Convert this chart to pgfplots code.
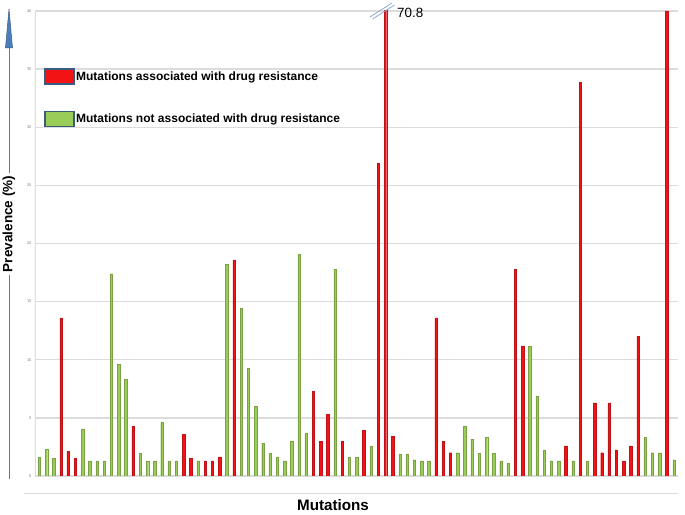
\documentclass[border=0pt]{standalone}
\usepackage{fontspec}
\setmainfont{Liberation Sans}
\usepackage{pgfplots}
\pgfplotsset{compat=1.18}
\usetikzlibrary{calc}
\definecolor{barred}{HTML}{F21414}
\definecolor{barredE}{HTML}{C01018}
\definecolor{bargreen}{HTML}{9ACD58}
\definecolor{bargreenE}{HTML}{7AA244}
\definecolor{legborder}{HTML}{3A5A80}
\definecolor{arrowblue}{HTML}{4A7EBB}
\definecolor{gridgray}{HTML}{DCDCDC}
\definecolor{breakblue}{HTML}{8FA8CC}
\begin{document}
\begin{tikzpicture}
\begin{axis}[
  scale only axis, width=643pt, height=465pt,
  xmin=0.4, xmax=89.55, ymin=0, ymax=40,
  ybar, bar width=2.4pt, bar shift=0pt,
  ytick={0,5,...,40}, xtick=\empty,
  ymajorgrids, grid style={gridgray, line width=1.3pt},
  axis line style={draw=none},
  tick style={draw=none},
  yticklabel style={font=\fontsize{4}{4}\selectfont, text=gray},
  /pgf/number format/assume math mode=true,
  legend style={at={(0.014,0.877)}, anchor=north west, draw=none, fill=none,
    inner sep=0pt, row sep=26.5pt, font=\bfseries\fontsize{12}{14}\selectfont,
    nodes={inner sep=1.5pt}},
  legend cell align=left,
]
\draw[gridgray, line width=1.3pt] (rel axis cs:0,0) -- (rel axis cs:0,1);
\addplot[fill=barred, draw=barredE, line width=0.4pt,
  legend image code/.code={\filldraw[fill=barred, draw=legborder, line width=1.3pt]
     (0pt,-7.5pt) rectangle (29pt,7.5pt);}] coordinates {
(4,13.6) (5,2.1) (6,1.5) (14,4.3) (21,3.6) (22,1.5) (24,1.3) (25,1.3) (26,1.65)
(28,18.6) (39,7.3) (40,3.0) (41,5.3) (43,3.0) (46,3.9) (48,26.9) (49,70.8) (50,3.4)
(56,13.6) (57,3.0) (58,2.0) (67,17.8) (68,11.2) (74,2.6) (76,33.85) (78,6.3)
(79,2.0) (80,6.3) (81,2.25) (82,1.3) (83,2.6) (84,12.0) (88,40)
};
\addlegendentry{Mutations associated with drug resistance}
\addplot[fill=bargreen, draw=bargreenE, line width=0.4pt,
  legend image code/.code={\filldraw[fill=bargreen, draw=legborder, line width=1.3pt]
     (0pt,-7.5pt) rectangle (29pt,7.5pt);}] coordinates {
(1,1.6) (2,2.3) (3,1.5) (7,4.0) (8,1.3) (9,1.3) (10,1.3) (11,17.4) (12,9.6) (13,8.3)
(15,1.95) (16,1.3) (17,1.3) (18,4.6) (19,1.3) (20,1.3) (23,1.3) (27,18.25) (29,14.4)
(30,9.3) (31,6.0) (32,2.8) (33,1.95) (34,1.65) (35,1.3) (36,3.0) (37,19.05) (38,3.65)
(42,17.8) (44,1.6) (45,1.6) (47,2.6) (51,1.9) (52,1.9) (53,1.4) (54,1.3) (55,1.3)
(59,2.0) (60,4.25) (61,3.15) (62,1.95) (63,3.35) (64,1.95) (65,1.3) (66,1.1)
(69,11.2) (70,6.9) (71,2.25) (72,1.3) (73,1.3) (75,1.3) (77,1.3) (85,3.3) (86,2.0)
(87,2.0) (89,1.4)
};
\addlegendentry{Mutations not associated with drug resistance}
\coordinate (SW) at (rel axis cs:0,0);
\end{axis}
% bounding box
\path[use as bounding box] ($(SW)+(-35pt,-38pt)$) rectangle ($(SW)+(650pt,476pt)$);
% bottom faint line
\draw[gridgray, line width=1pt] ($(SW)+(-11pt,-17pt)$) -- ($(SW)+(643pt,-17pt)$);
% y label with arrow
\draw[arrowblue, line width=0.7pt] ($(SW)+(-26pt,-3pt)$) -- ($(SW)+(-26pt,201pt)$);
\draw[arrowblue, line width=0.7pt] ($(SW)+(-26pt,303pt)$) -- ($(SW)+(-26pt,430pt)$);
\filldraw[fill=arrowblue, draw=legborder, line width=0.5pt]
  ($(SW)+(-29.5pt,428pt)$) -- ($(SW)+(-22.5pt,428pt)$) -- ($(SW)+(-26pt,467pt)$) -- cycle;
\node[rotate=90, font=\bfseries\fontsize{13.5}{15}\selectfont, inner sep=0pt]
  at ($(SW)+(-26pt,252pt)$) {Prevalence (\%)};
% x label
\node[font=\bfseries\fontsize{15.2}{17}\selectfont, inner sep=0pt]
  at ($(SW)+(298pt,-29pt)$) {Mutations};
% break mark and value
\draw[breakblue, line width=0.8pt] ($(SW)+(335pt,459pt)$) -- ($(SW)+(357pt,473pt)$);
\draw[breakblue, line width=0.8pt] ($(SW)+(337.5pt,457pt)$) -- ($(SW)+(359.5pt,471pt)$);
\node[font=\fontsize{13.4}{15}\selectfont, inner sep=0pt, anchor=west]
  at ($(SW)+(362pt,463pt)$) {70.8};
\end{tikzpicture}
\end{document}
